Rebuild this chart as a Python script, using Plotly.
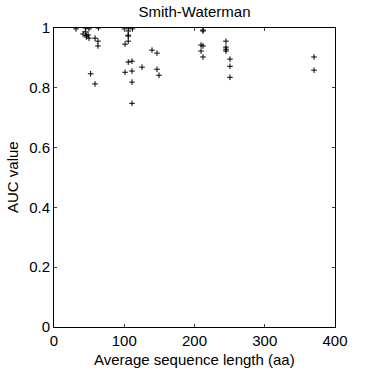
import plotly.graph_objects as go

# Average sequence length (aa)
seq_len = [31.3, 44.7, 44.7, 49.8, 41.3, 46.1, 48.5, 46.1, 49.8, 58.4, 62.6, 62.6, 63.2,
           52.2, 58.4,
           100.2, 106.3, 111.6, 105.7, 105.7, 105.7, 105.7, 101.1, 105.7, 111.0, 101.1, 111.0,
           125.3, 111.0, 111.0,
           139.5, 146.6, 146.6, 149.5,
           212.1, 212.1, 209.3, 212.1, 209.3, 212.1,
           244.8, 244.8, 244.8, 244.8, 250.5, 250.5, 250.5,
           370.1, 370.1]
# AUC value
auc = [0.997, 1.0, 0.987, 0.997, 0.98, 0.975, 0.977, 0.97, 0.966, 0.966, 0.956, 0.94, 1.0,
       0.847, 0.813,
       0.997, 1.0, 0.997, 0.99, 0.976, 0.973, 0.956, 0.946, 0.886, 0.889, 0.852, 0.856,
       0.869, 0.819, 0.748,
       0.926, 0.916, 0.862, 0.842,
       0.993, 0.99, 0.943, 0.94, 0.923, 0.903,
       0.956, 0.936, 0.929, 0.923, 0.896, 0.872, 0.835,
       0.903, 0.859]

x_ticks = [0, 100, 200, 300, 400]
y_ticks = [0, 0.2, 0.4, 0.6, 0.8, 1]
y_tick_labels = ["0", "0.2", "0.4", "0.6", "0.8", "1"]

fam = "Liberation Sans, Arial, sans-serif"
f15 = dict(family=fam, size=15, color="black")

W = H = 370
L, R, T, B = 54, 35, 28, 43

fig = go.Figure(go.Scatter(
    x=seq_len, y=auc, mode="markers",
    marker=dict(symbol="cross-thin", size=4, color="black",
                line=dict(color="black", width=1)),
    showlegend=False,
))

fig.update_layout(
    width=W, height=H,
    margin=dict(l=L, r=R, t=T, b=B, autoexpand=False),
    paper_bgcolor="white", plot_bgcolor="white",
    font=f15,
    title=dict(text="Smith-Waterman", x=194.5 / W, xanchor="center",
               y=1 - 12 / H, yanchor="middle", yref="container",
               font=f15),
    xaxis=dict(range=[0, 400], tickvals=x_ticks, ticks="inside", ticklen=3,
               tickfont=f15, automargin=False,
               showline=True, linecolor="black", linewidth=1, mirror="ticks",
               showgrid=False, zeroline=False),
    yaxis=dict(range=[0, 1], tickvals=y_ticks, ticktext=y_tick_labels,
               ticks="inside", ticklen=3, tickfont=f15, automargin=False,
               showline=True, linecolor="black", linewidth=1, mirror="ticks",
               showgrid=False, zeroline=False),
    annotations=[
        dict(text="Average sequence length (aa)", xref="paper", yref="paper",
             x=0.5, y=-(359 - (H - B)) / (H - T - B), xanchor="center", yanchor="middle",
             showarrow=False, font=f15),
        dict(text="AUC value", xref="paper", yref="paper", textangle=-90,
             x=-(L - 12.5) / (W - L - R), y=0.5, xanchor="center", yanchor="middle",
             showarrow=False, font=f15),
    ],
)

fig.write_html("out.html",
               config={"displayModeBar": False},
               post_script="document.body.style.margin='0';document.body.style.overflow='hidden';")
